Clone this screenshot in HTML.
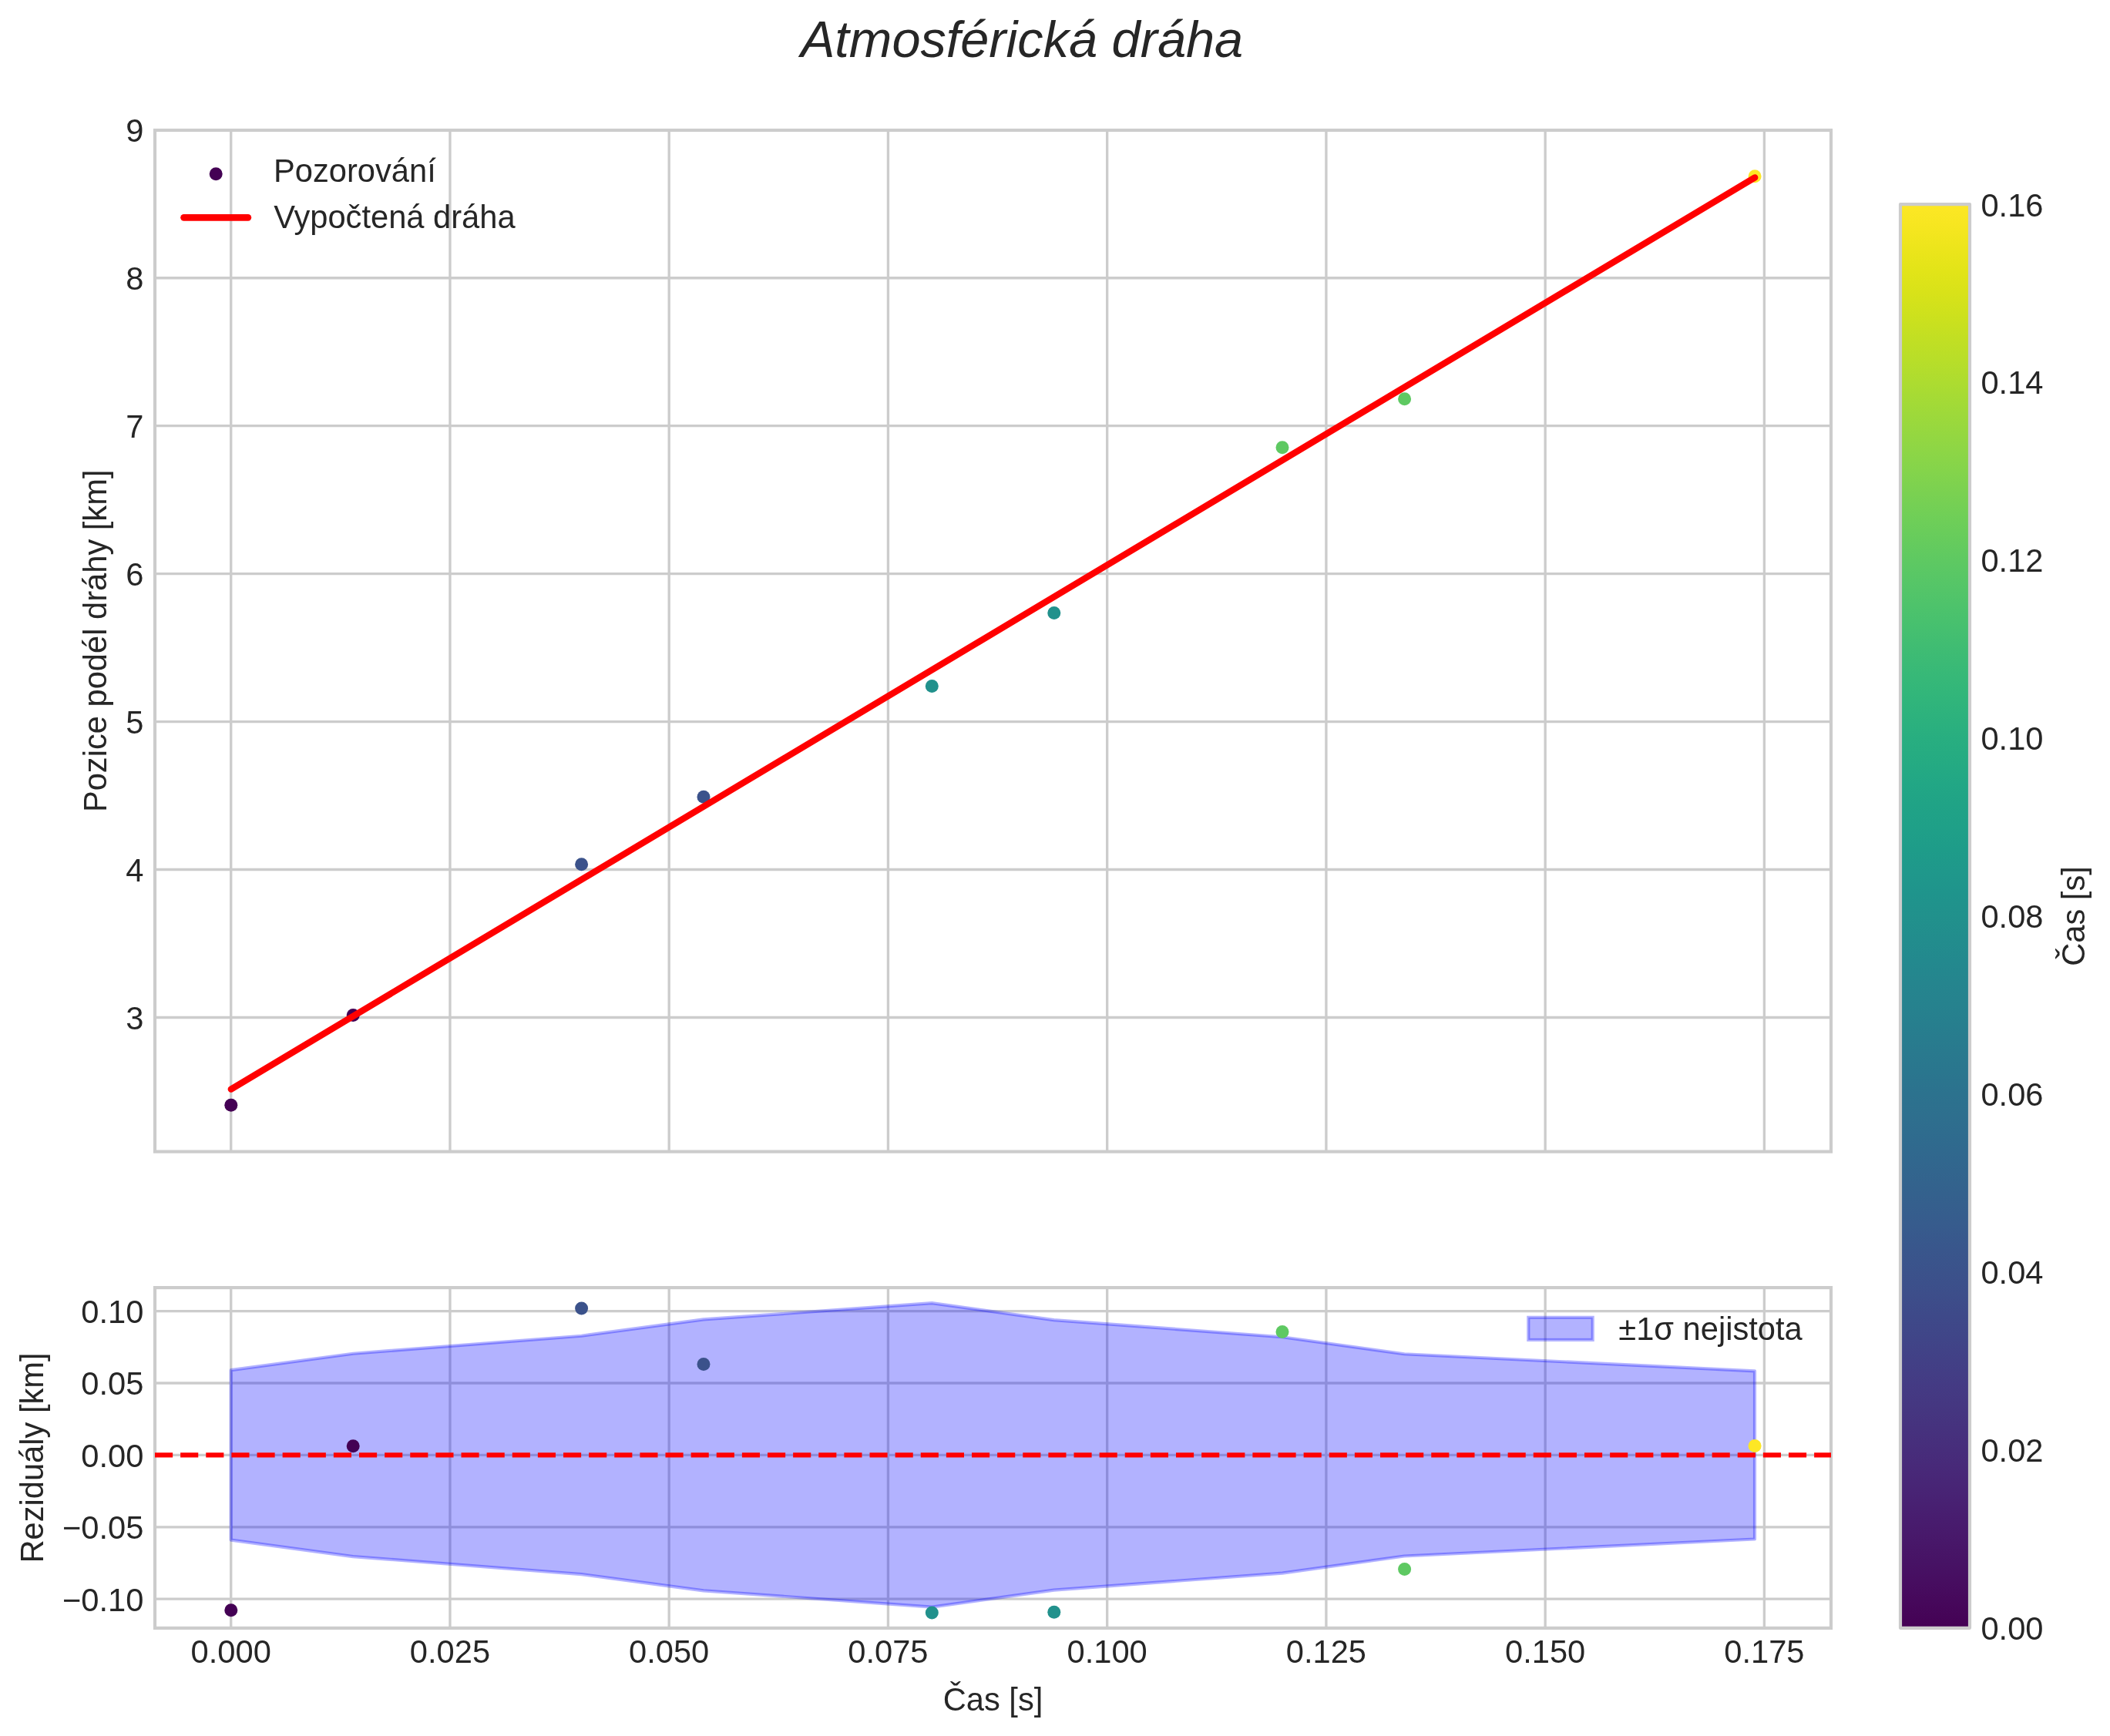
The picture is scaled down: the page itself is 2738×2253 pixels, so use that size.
<!DOCTYPE html>
<html><head><meta charset="utf-8"><title>Atmosférická dráha</title>
<style>html,body{margin:0;padding:0;background:#fff;overflow:hidden;width:2738px;height:2253px}svg{display:block;will-change:transform}text{font-family:"Liberation Sans",sans-serif;fill:#262626}</style>
</head><body>
<svg width="2738" height="2253" viewBox="0 0 2738 2253">
<defs>
<linearGradient id="vir" x1="0" y1="1" x2="0" y2="0">
<stop offset="0.0000" stop-color="#440154"/>
<stop offset="0.0156" stop-color="#46075a"/>
<stop offset="0.0312" stop-color="#470d60"/>
<stop offset="0.0469" stop-color="#471365"/>
<stop offset="0.0625" stop-color="#48186a"/>
<stop offset="0.0781" stop-color="#481d6f"/>
<stop offset="0.0938" stop-color="#482374"/>
<stop offset="0.1094" stop-color="#482878"/>
<stop offset="0.1250" stop-color="#472d7b"/>
<stop offset="0.1406" stop-color="#46327e"/>
<stop offset="0.1562" stop-color="#453781"/>
<stop offset="0.1719" stop-color="#443b84"/>
<stop offset="0.1875" stop-color="#424086"/>
<stop offset="0.2031" stop-color="#404588"/>
<stop offset="0.2188" stop-color="#3e4989"/>
<stop offset="0.2344" stop-color="#3d4e8a"/>
<stop offset="0.2500" stop-color="#3b528b"/>
<stop offset="0.2656" stop-color="#39568c"/>
<stop offset="0.2812" stop-color="#375b8d"/>
<stop offset="0.2969" stop-color="#355f8d"/>
<stop offset="0.3125" stop-color="#33638d"/>
<stop offset="0.3281" stop-color="#31678e"/>
<stop offset="0.3438" stop-color="#2f6b8e"/>
<stop offset="0.3594" stop-color="#2e6f8e"/>
<stop offset="0.3750" stop-color="#2c728e"/>
<stop offset="0.3906" stop-color="#2a768e"/>
<stop offset="0.4062" stop-color="#297a8e"/>
<stop offset="0.4219" stop-color="#277e8e"/>
<stop offset="0.4375" stop-color="#26828e"/>
<stop offset="0.4531" stop-color="#25858e"/>
<stop offset="0.4688" stop-color="#23898e"/>
<stop offset="0.4844" stop-color="#228d8d"/>
<stop offset="0.5000" stop-color="#21918c"/>
<stop offset="0.5156" stop-color="#1f948c"/>
<stop offset="0.5312" stop-color="#1f988b"/>
<stop offset="0.5469" stop-color="#1e9c89"/>
<stop offset="0.5625" stop-color="#1fa088"/>
<stop offset="0.5781" stop-color="#20a386"/>
<stop offset="0.5938" stop-color="#22a785"/>
<stop offset="0.6094" stop-color="#25ab82"/>
<stop offset="0.6250" stop-color="#28ae80"/>
<stop offset="0.6406" stop-color="#2db27d"/>
<stop offset="0.6562" stop-color="#32b67a"/>
<stop offset="0.6719" stop-color="#38b977"/>
<stop offset="0.6875" stop-color="#3fbc73"/>
<stop offset="0.7031" stop-color="#46c06f"/>
<stop offset="0.7188" stop-color="#4ec36b"/>
<stop offset="0.7344" stop-color="#56c667"/>
<stop offset="0.7500" stop-color="#5ec962"/>
<stop offset="0.7656" stop-color="#67cc5c"/>
<stop offset="0.7812" stop-color="#70cf57"/>
<stop offset="0.7969" stop-color="#7ad151"/>
<stop offset="0.8125" stop-color="#84d44b"/>
<stop offset="0.8281" stop-color="#8ed645"/>
<stop offset="0.8438" stop-color="#98d83e"/>
<stop offset="0.8594" stop-color="#a2da37"/>
<stop offset="0.8750" stop-color="#addc30"/>
<stop offset="0.8906" stop-color="#b8de29"/>
<stop offset="0.9062" stop-color="#c2df23"/>
<stop offset="0.9219" stop-color="#cde11d"/>
<stop offset="0.9375" stop-color="#d8e219"/>
<stop offset="0.9531" stop-color="#e2e418"/>
<stop offset="0.9688" stop-color="#ece51b"/>
<stop offset="0.9844" stop-color="#f6e620"/>
<stop offset="1.0000" stop-color="#fde725"/>
</linearGradient>
<clipPath id="ct"><rect x="201.00" y="169.00" width="2175.00" height="1325.60"/></clipPath>
<clipPath id="cb"><rect x="201.00" y="1671.10" width="2175.00" height="441.80"/></clipPath>
</defs>
<rect width="2738" height="2253" fill="#ffffff"/>
<g id="top-axes">
<g stroke="#cccccc" stroke-width="3.33" fill="none">
<line x1="299.70" y1="169.00" x2="299.70" y2="1494.60"/>
<line x1="583.94" y1="169.00" x2="583.94" y2="1494.60"/>
<line x1="868.18" y1="169.00" x2="868.18" y2="1494.60"/>
<line x1="1152.43" y1="169.00" x2="1152.43" y2="1494.60"/>
<line x1="1436.67" y1="169.00" x2="1436.67" y2="1494.60"/>
<line x1="1720.91" y1="169.00" x2="1720.91" y2="1494.60"/>
<line x1="2005.16" y1="169.00" x2="2005.16" y2="1494.60"/>
<line x1="2289.40" y1="169.00" x2="2289.40" y2="1494.60"/>
<line x1="201.00" y1="1320.46" x2="2376.00" y2="1320.46"/>
<line x1="201.00" y1="1128.52" x2="2376.00" y2="1128.52"/>
<line x1="201.00" y1="936.58" x2="2376.00" y2="936.58"/>
<line x1="201.00" y1="744.64" x2="2376.00" y2="744.64"/>
<line x1="201.00" y1="552.70" x2="2376.00" y2="552.70"/>
<line x1="201.00" y1="360.76" x2="2376.00" y2="360.76"/>
<line x1="201.00" y1="168.82" x2="2376.00" y2="168.82"/>
</g>
<g clip-path="url(#ct)">
<circle cx="299.80" cy="1434.20" r="8.50" fill="#440154"/>
<circle cx="458.20" cy="1317.40" r="8.50" fill="#440154"/>
<circle cx="754.60" cy="1121.80" r="8.50" fill="#3b528b"/>
<circle cx="913.00" cy="1034.30" r="8.50" fill="#3b528b"/>
<circle cx="1209.30" cy="890.40" r="8.50" fill="#21918c"/>
<circle cx="1367.80" cy="795.45" r="8.50" fill="#21918c"/>
<circle cx="1664.00" cy="580.70" r="8.50" fill="#5ec962"/>
<circle cx="1822.60" cy="517.70" r="8.50" fill="#5ec962"/>
<circle cx="2277.10" cy="228.70" r="8.50" fill="#fde725"/>
<line x1="299.80" y1="1413.60" x2="2277.20" y2="230.40" stroke="#ff0000" stroke-width="8.33" stroke-linecap="round"/>
</g>
<rect x="201.00" y="169.00" width="2175.00" height="1325.60" fill="none" stroke="#cccccc" stroke-width="4.17"/>
<text x="186.4" y="1335.86" font-size="41.67" text-anchor="end">3</text>
<text x="186.4" y="1143.92" font-size="41.67" text-anchor="end">4</text>
<text x="186.4" y="951.98" font-size="41.67" text-anchor="end">5</text>
<text x="186.4" y="760.04" font-size="41.67" text-anchor="end">6</text>
<text x="186.4" y="568.10" font-size="41.67" text-anchor="end">7</text>
<text x="186.4" y="376.16" font-size="41.67" text-anchor="end">8</text>
<text x="186.4" y="184.22" font-size="41.67" text-anchor="end">9</text>
<text transform="translate(138.0,831.8) rotate(-90)" font-size="41.67" text-anchor="middle">Pozice podél dráhy [km]</text>
<circle cx="280.2" cy="225.7" r="8.50" fill="#440154"/>
<text x="355.0" y="236.2" font-size="41.67">Pozorování</text>
<line x1="238.5" y1="282.35" x2="321.9" y2="282.35" stroke="#ff0000" stroke-width="8.6" stroke-linecap="round"/>
<text x="355.2" y="296.0" font-size="41.67">Vypočtená dráha</text>
</g>
<g id="bottom-axes">
<g stroke="#cccccc" stroke-width="3.33" fill="none">
<line x1="299.70" y1="1671.10" x2="299.70" y2="2112.90"/>
<line x1="583.94" y1="1671.10" x2="583.94" y2="2112.90"/>
<line x1="868.18" y1="1671.10" x2="868.18" y2="2112.90"/>
<line x1="1152.43" y1="1671.10" x2="1152.43" y2="2112.90"/>
<line x1="1436.67" y1="1671.10" x2="1436.67" y2="2112.90"/>
<line x1="1720.91" y1="1671.10" x2="1720.91" y2="2112.90"/>
<line x1="2005.16" y1="1671.10" x2="2005.16" y2="2112.90"/>
<line x1="2289.40" y1="1671.10" x2="2289.40" y2="2112.90"/>
<line x1="201.00" y1="1701.60" x2="2376.00" y2="1701.60"/>
<line x1="201.00" y1="1795.00" x2="2376.00" y2="1795.00"/>
<line x1="201.00" y1="1888.40" x2="2376.00" y2="1888.40"/>
<line x1="201.00" y1="1981.80" x2="2376.00" y2="1981.80"/>
<line x1="201.00" y1="2075.20" x2="2376.00" y2="2075.20"/>
</g>
<g clip-path="url(#cb)">
<polygon points="299.70,1778.19 458.08,1756.71 754.49,1733.73 912.87,1712.43 1209.28,1691.14 1367.66,1713.18 1664.06,1735.22 1822.44,1757.27 2277.00,1779.31 2277.00,1997.49 1822.44,2019.53 1664.06,2041.58 1367.66,2063.62 1209.28,2085.66 912.87,2064.37 754.49,2043.07 458.08,2020.09 299.70,1998.61" fill="rgba(0,0,255,0.3)" stroke="rgba(0,0,255,0.3)" stroke-width="4.17" stroke-linejoin="round"/>
<circle cx="299.80" cy="2089.80" r="8.50" fill="#440154"/>
<circle cx="458.20" cy="1876.70" r="8.50" fill="#440154"/>
<circle cx="754.60" cy="1698.00" r="8.50" fill="#3b528b"/>
<circle cx="913.00" cy="1770.50" r="8.50" fill="#3b528b"/>
<circle cx="1209.30" cy="2092.90" r="8.50" fill="#21918c"/>
<circle cx="1367.80" cy="2092.30" r="8.50" fill="#21918c"/>
<circle cx="1664.00" cy="1728.60" r="8.50" fill="#5ec962"/>
<circle cx="1822.60" cy="2036.50" r="8.50" fill="#5ec962"/>
<circle cx="2277.10" cy="1876.50" r="8.50" fill="#fde725"/>
</g>
<rect x="201.00" y="1671.10" width="2175.00" height="441.80" fill="none" stroke="#cccccc" stroke-width="4.17"/>
<line x1="201.00" y1="1888.40" x2="2376.00" y2="1888.40" stroke="#ff0000" stroke-width="6.25" stroke-dasharray="23.125 10"/>
<text x="186.4" y="1717.00" font-size="41.67" text-anchor="end">0.10</text>
<text x="186.4" y="1810.40" font-size="41.67" text-anchor="end">0.05</text>
<text x="186.4" y="1903.80" font-size="41.67" text-anchor="end">0.00</text>
<text x="186.4" y="1997.20" font-size="41.67" text-anchor="end">−0.05</text>
<text x="186.4" y="2090.60" font-size="41.67" text-anchor="end">−0.10</text>
<text x="299.70" y="2157.6" font-size="41.67" text-anchor="middle">0.000</text>
<text x="583.94" y="2157.6" font-size="41.67" text-anchor="middle">0.025</text>
<text x="868.18" y="2157.6" font-size="41.67" text-anchor="middle">0.050</text>
<text x="1152.43" y="2157.6" font-size="41.67" text-anchor="middle">0.075</text>
<text x="1436.67" y="2157.6" font-size="41.67" text-anchor="middle">0.100</text>
<text x="1720.91" y="2157.6" font-size="41.67" text-anchor="middle">0.125</text>
<text x="2005.16" y="2157.6" font-size="41.67" text-anchor="middle">0.150</text>
<text x="2289.40" y="2157.6" font-size="41.67" text-anchor="middle">0.175</text>
<text x="1288.5" y="2219.6" font-size="41.67" text-anchor="middle">Čas [s]</text>
<text transform="translate(55.9,1892.0) rotate(-90)" font-size="41.67" text-anchor="middle">Reziduály [km]</text>
<rect x="1983.3" y="1709.8" width="83.4" height="29.1" fill="rgba(0,0,255,0.3)" stroke="rgba(0,0,255,0.3)" stroke-width="4.17"/>
<text x="2100.3" y="1739.4" font-size="41.67">±1σ nejistota</text>
</g>
<g id="colorbar">
<rect x="2466.00" y="265.10" width="90.00" height="1847.70" fill="url(#vir)"/>
<rect x="2466.00" y="265.10" width="90.00" height="1847.70" fill="none" stroke="#cccccc" stroke-width="4.17" stroke-linejoin="round"/>
<text x="2570.4" y="2128.20" font-size="41.67">0.00</text>
<text x="2570.4" y="1897.24" font-size="41.67">0.02</text>
<text x="2570.4" y="1666.28" font-size="41.67">0.04</text>
<text x="2570.4" y="1435.31" font-size="41.67">0.06</text>
<text x="2570.4" y="1204.35" font-size="41.67">0.08</text>
<text x="2570.4" y="973.39" font-size="41.67">0.10</text>
<text x="2570.4" y="742.43" font-size="41.67">0.12</text>
<text x="2570.4" y="511.46" font-size="41.67">0.14</text>
<text x="2570.4" y="280.50" font-size="41.67">0.16</text>
<text transform="translate(2704.9,1189.0) rotate(-90)" font-size="41.67" text-anchor="middle">Čas [s]</text>
</g>
<text x="1326.0" y="73.5" font-size="66.67" font-style="italic" text-anchor="middle">Atmosférická dráha</text>
</svg></body></html>
